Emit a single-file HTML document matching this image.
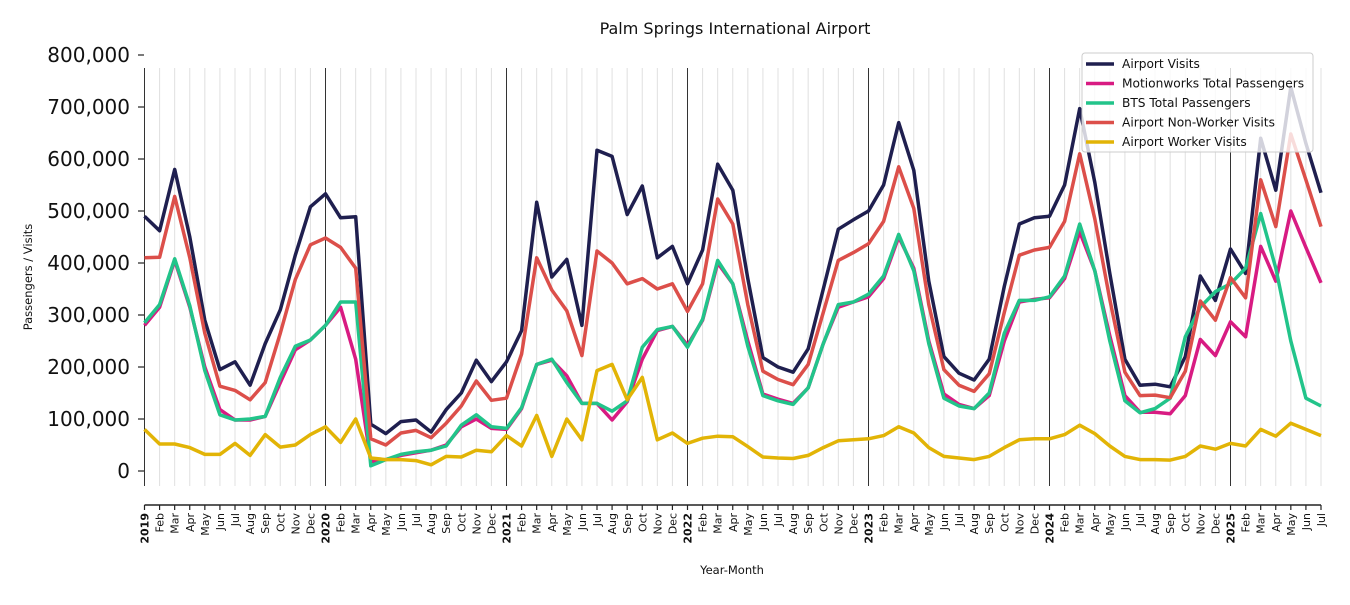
<!DOCTYPE html>
<html><head><meta charset="utf-8"><style>
html,body{margin:0;padding:0;background:#fff;}
svg text{font-family:"DejaVu Sans","Liberation Sans",sans-serif;fill:#111;}
</style></head><body>
<svg id="s" width="1350" height="600" xmlns="http://www.w3.org/2000/svg"></svg>
<script>
const s=document.getElementById('s');
const X0=144.5,DX=(1321-144.5)/78,Y0=471,K=0.52;
const mon=['Jan','Feb','Mar','Apr','May','Jun','Jul','Aug','Sep','Oct','Nov','Dec'];
let h='';
h+='<text x="735" y="34" font-size="16" text-anchor="middle">Palm Springs International Airport</text>';
for(let i=0;i<=78;i++){const x=X0+i*DX;const yr=i%12==0;
h+=`<line x1="${x}" y1="68" x2="${x}" y2="486" stroke="${yr?'#333':'#e0e0e0'}" stroke-width="1"/>`;
h+=`<line x1="${x}" y1="505" x2="${x}" y2="510" stroke="#222" stroke-width="1.2"/>`;
const lab=yr?(2019+i/12):mon[i%12];
h+=`<text transform="translate(${x+4},513) rotate(-90)" font-size="11" text-anchor="end" ${yr?'font-weight="bold"':''}>${lab}</text>`;}
h+=`<line x1="${X0}" y1="505" x2="1321" y2="505" stroke="#222" stroke-width="1.5"/>`;
for(let v=0;v<=800;v+=100){const y=Y0-v*K;
h+=`<line x1="138" y1="${y}" x2="144" y2="${y}" stroke="#222" stroke-width="1.2"/>`;
h+=`<text x="130" y="${y+7}" font-size="20" text-anchor="end">${v==0?'0':v+',000'}</text>`;}
h+='<text transform="translate(32,277) rotate(-90)" font-size="11.5" text-anchor="middle">Passengers / Visits</text>';
h+='<text x="732" y="574" font-size="11.5" text-anchor="middle">Year-Month</text>';
const D={
'#1f1f4f':[490,462,580,450,290,195,210,165,245,310,415,508,533,487,489,90,72,95,98,75,118,150,213,172,210,270,517,373,407,280,617,605,493,548,410,432,360,425,590,540,370,218,200,190,235,350,465,483,500,550,670,578,365,220,188,175,215,355,475,487,490,550,697,555,380,215,165,167,162,220,375,328,427,380,640,540,738,630,535],
'#d81b82':[280,315,405,315,200,118,98,98,105,170,233,252,280,315,215,18,22,30,35,40,50,85,100,82,80,120,205,213,183,130,130,98,133,215,270,278,242,290,400,360,250,148,138,130,160,245,315,325,335,370,450,390,250,148,128,120,145,250,325,330,333,370,460,385,260,145,113,113,110,145,253,222,287,258,432,365,500,430,362],
'#22c48a':[285,320,408,318,193,108,98,100,105,180,240,252,280,325,325,10,22,32,37,40,48,88,108,85,82,122,205,215,170,130,130,115,135,238,272,278,238,292,405,360,240,145,135,128,160,245,320,325,340,375,455,385,245,140,125,120,150,265,328,328,335,375,475,385,250,135,112,120,140,258,315,345,360,390,495,390,250,140,125],
'#dc4f4a':[410,411,528,410,265,163,155,137,170,265,368,435,448,430,390,62,50,73,78,64,92,125,173,136,140,225,410,348,308,222,423,400,360,370,350,360,307,360,523,475,320,192,176,166,205,305,405,420,437,480,585,505,320,195,165,153,187,305,415,425,430,480,610,485,330,190,145,146,141,192,327,290,372,333,560,470,648,560,470],
'#e2b406':[80,52,52,45,32,32,53,30,70,46,50,70,85,55,100,25,22,22,20,12,28,27,40,37,68,48,107,28,100,60,193,205,137,180,60,73,53,63,67,66,47,27,25,24,30,45,58,60,62,68,85,73,45,28,25,22,28,45,60,62,62,70,88,72,48,28,22,22,21,28,48,42,53,48,80,67,92,80,68]};
for(const c in D){h+=`<polyline fill="none" stroke="${c}" stroke-width="3.5" stroke-linejoin="round" points="${D[c].map((v,i)=>(X0+i*DX).toFixed(1)+','+(Y0-v*K).toFixed(1)).join(' ')}"/>`;}
h+='<rect x="1082" y="53" width="231" height="99" rx="3" fill="#fff" fill-opacity="0.8" stroke="#ccc"/>';
const L=[['#1f1f4f','Airport Visits'],['#d81b82','Motionworks Total Passengers'],['#22c48a','BTS Total Passengers'],['#dc4f4a','Airport Non-Worker Visits'],['#e2b406','Airport Worker Visits']];
L.forEach((l,i)=>{const y=64+i*19.5;h+=`<line x1="1086" y1="${y}" x2="1114" y2="${y}" stroke="${l[0]}" stroke-width="3.5"/><text x="1122" y="${y+4}" font-size="12.2">${l[1]}</text>`;});
s.innerHTML=h;
</script>
</body></html>
